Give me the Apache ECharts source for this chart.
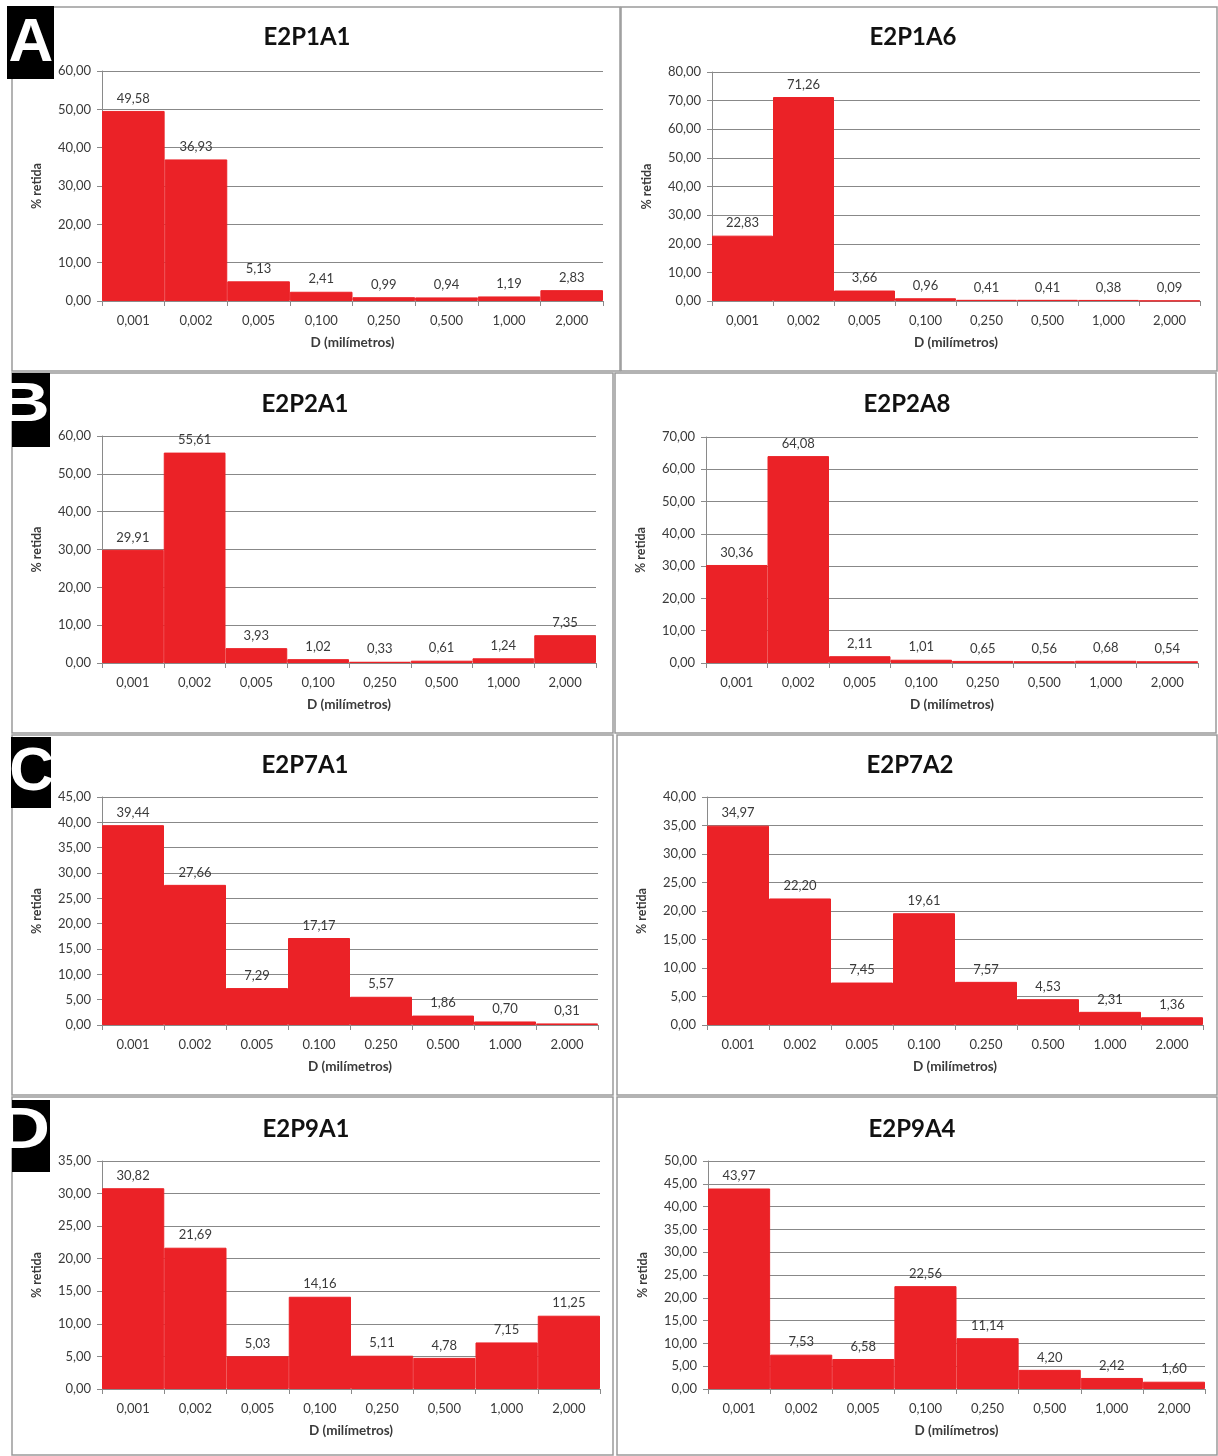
<!DOCTYPE html>
<html>
<head>
<meta charset="utf-8">
<title>Distribuição granulométrica</title>
<script src="https://cdn.jsdelivr.net/npm/echarts@6.0.0/dist/echarts.min.js"></script>
<style>
  html, body { margin: 0; padding: 0; background: #fff; }
  #chart { width: 1218px; height: 1456px; }
</style>
</head>
<body>
<div id="chart"></div>
<script>
// Classes de diâmetro (mm)
const categoriesComma = ['0,001', '0,002', '0,005', '0,100', '0,250', '0,500', '1,000', '2,000'];
const categoriesDot = ['0.001', '0.002', '0.005', '0.100', '0.250', '0.500', '1.000', '2.000'];

// % retida por amostra
const e2p1a1 = [49.58, 36.93, 5.13, 2.41, 0.99, 0.94, 1.19, 2.83];
const e2p1a6 = [22.83, 71.26, 3.66, 0.96, 0.41, 0.41, 0.38, 0.09];
const e2p2a1 = [29.91, 55.61, 3.93, 1.02, 0.33, 0.61, 1.24, 7.35];
const e2p2a8 = [30.36, 64.08, 2.11, 1.01, 0.65, 0.56, 0.68, 0.54];
const e2p7a1 = [39.44, 27.66, 7.29, 17.17, 5.57, 1.86, 0.70, 0.31];
const e2p7a2 = [34.97, 22.20, 7.45, 19.61, 7.57, 4.53, 2.31, 1.36];
const e2p9a1 = [30.82, 21.69, 5.03, 14.16, 5.11, 4.78, 7.15, 11.25];
const e2p9a4 = [43.97, 7.53, 6.58, 22.56, 11.14, 4.20, 2.42, 1.60];

// Escalas do eixo Y
const yMax = [60, 80, 60, 70, 45, 40, 35, 50];
const yStep = [10, 10, 10, 10, 5, 5, 5, 5];

const titles = ['E2P1A1', 'E2P1A6', 'E2P2A1', 'E2P2A8', 'E2P7A1', 'E2P7A2', 'E2P9A1', 'E2P9A4'];
const seriesValues = [e2p1a1, e2p1a6, e2p2a1, e2p2a8, e2p7a1, e2p7a2, e2p9a1, e2p9a4];
const seriesCategories = [categoriesComma, categoriesComma, categoriesComma, categoriesComma,
                          categoriesDot, categoriesDot, categoriesComma, categoriesComma];
const panelLetters = ['A', 'B', 'C', 'D'];

// Layout of each panel: frame, plot area and title centre
const layout = [
  { frame: [12, 7, 608, 364],    grid: [102, 71, 501, 230],  title: [307, 37] },
  { frame: [621, 7, 596, 364],   grid: [712, 72, 488, 229],  title: [913, 37] },
  { frame: [12, 373, 601, 360],  grid: [102, 436, 494, 227], title: [305, 404] },
  { frame: [615, 373, 601, 360], grid: [706, 437, 492, 226], title: [907, 404] },
  { frame: [12, 735, 601, 360],  grid: [102, 797, 496, 228], title: [305, 765] },
  { frame: [617, 735, 600, 360], grid: [707, 797, 496, 228], title: [910, 765] },
  { frame: [12, 1097, 601, 358], grid: [102, 1161, 498, 228], title: [306, 1129] },
  { frame: [617, 1097, 600, 358], grid: [708, 1161, 497, 228], title: [912, 1129] }
];

// Black letter tags; letters may run past the tag's left edge (white on white there)
const letterBoxes = [
  { box: [7, 6, 47, 73],    x: 31, y: 44,   align: 'center', size: 62, sx: 1 },
  { box: [12, 373, 38, 74], x: 50, y: 406,  align: 'right',  size: 56, sx: 1.32 },
  { box: [11, 737, 40, 71], x: 54, y: 773,  align: 'right',  size: 62, sx: 1 },
  { box: [12, 1100, 38, 72], x: 50, y: 1132, align: 'right', size: 58, sx: 1.25 }
];

const FONT = 'Lato, "Open Sans", "Liberation Sans", sans-serif';
const TEXT = '#3a3a3a';
const BAR = '#EB2227';
const fmt = v => Number(v).toFixed(2).replace('.', ',');

const grids = [], xAxes = [], yAxes = [], series = [], graphics = [];

layout.forEach((p, i) => {
  const [fx, fy, fw, fh] = p.frame;
  graphics.push({
    type: 'rect', z: 0, silent: true,
    shape: { x: fx, y: fy, width: fw, height: fh },
    style: { fill: 'none', stroke: '#9a9a9a', lineWidth: 1.5 }
  });
  graphics.push({
    type: 'text', z: 5, silent: true,
    x: p.title[0], y: p.title[1],
    style: {
      text: titles[i], fill: '#111', align: 'center', verticalAlign: 'middle',
      font: 'bold 24px ' + FONT
    }
  });

  const [gl, gt, gw, gh] = p.grid;
  grids.push({ left: gl, top: gt, width: gw, height: gh, containLabel: false });

  xAxes.push({
    type: 'category', gridIndex: i, data: seriesCategories[i],
    name: 'D (milímetros)', nameLocation: 'middle', nameGap: 35,
    nameTextStyle: { color: TEXT, fontFamily: FONT, fontWeight: 'bold', fontSize: 13.5 },
    axisLine: { show: true, lineStyle: { color: '#8a8a8a', width: 1 } },
    axisTick: { show: true, alignWithLabel: false, length: 5, lineStyle: { color: '#8a8a8a' } },
    axisLabel: { interval: 0, margin: 13, color: TEXT, fontFamily: FONT, fontSize: 13 },
    splitLine: { show: false }
  });

  yAxes.push({
    type: 'value', gridIndex: i, min: 0, max: yMax[i], interval: yStep[i],
    name: '% retida', nameLocation: 'middle', nameGap: 59,
    nameTextStyle: { color: TEXT, fontFamily: FONT, fontWeight: 'bold', fontSize: 12.5 },
    axisLine: { show: true, lineStyle: { color: '#8a8a8a', width: 1 } },
    axisTick: { show: true, length: 5, lineStyle: { color: '#8a8a8a' } },
    axisLabel: { margin: 11, color: TEXT, fontFamily: FONT, fontSize: 13, formatter: fmt },
    splitLine: { show: true, lineStyle: { color: '#888888', width: 1 } }
  });

  series.push({
    type: 'bar', name: titles[i], xAxisIndex: i, yAxisIndex: i,
    data: seriesValues[i],
    barCategoryGap: '0%',
    itemStyle: { color: BAR, borderColor: BAR, borderWidth: 1 },
    label: {
      show: true, position: 'top', distance: 6,
      color: TEXT, fontFamily: FONT, fontSize: 13,
      formatter: d => fmt(d.value)
    },
    silent: true, animation: false
  });
});

letterBoxes.forEach((b, i) => {
  const [bx, by, bw, bh] = b.box;
  graphics.push({
    type: 'rect', z: 20, silent: true,
    shape: { x: bx, y: by, width: bw, height: bh },
    style: { fill: '#000' }
  });
  graphics.push({
    type: 'text', z: 21, silent: true, x: b.x, y: b.y, scaleX: b.sx,
    style: {
      text: panelLetters[i], fill: '#fff', align: b.align, verticalAlign: 'middle',
      font: 'bold ' + b.size + 'px "Liberation Sans", Arial, sans-serif'
    }
  });
});

const chart = echarts.init(document.getElementById('chart'), null, { renderer: 'canvas' });
chart.setOption({
  backgroundColor: '#ffffff',
  animation: false,
  grid: grids,
  xAxis: xAxes,
  yAxis: yAxes,
  series: series,
  graphic: { elements: graphics }
});
</script>
</body>
</html>
